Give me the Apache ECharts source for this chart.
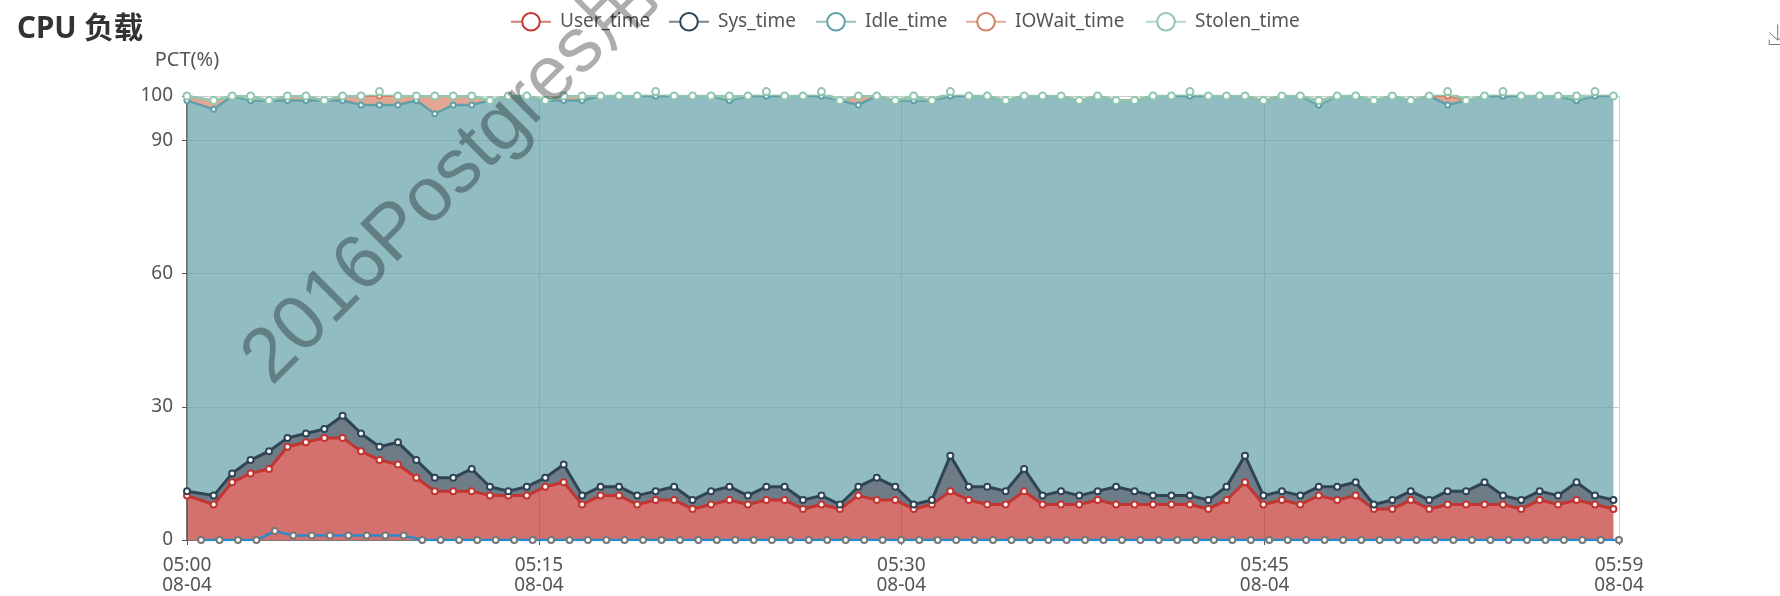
<!DOCTYPE html>
<html>
<head>
<meta charset="utf-8">
<style>
  html, body { margin: 0; padding: 0; background: #fff; }
  #chart { width: 1780px; height: 596px; }
</style>
<script src="https://cdn.jsdelivr.net/npm/echarts@6/dist/echarts.min.js"></script>
</head>
<body>
<div id="chart"></div>
<script>
// minutes after 05:00 as placed along the axis in the picture
const sampleMinutes = [0, 1.10, 1.86, 2.62, 3.38, 4.14, 4.90, 5.66, 6.41, 7.17, 7.93, 8.69, 9.45, 10.21, 10.97, 11.73, 12.48, 13.24, 14.00, 14.76, 15.52, 16.28, 17.04, 17.80, 18.55, 19.31, 20.07, 20.83, 21.59, 22.35, 23.11, 23.87, 24.62, 25.38, 26.14, 26.90, 27.66, 28.42, 29.18, 29.94, 30.69, 31.45, 32.21, 32.97, 33.73, 34.49, 35.25, 36.01, 36.76, 37.52, 38.28, 39.04, 39.80, 40.56, 41.32, 42.08, 42.83, 43.59, 44.35, 45.11, 45.87, 46.63, 47.39, 48.15, 48.90, 49.66, 50.42, 51.18, 51.94, 52.70, 53.46, 54.22, 54.97, 55.73, 56.49, 57.25, 58.01, 58.77];
const baselineMinutes = [0.58, 1.34, 2.10, 2.86, 3.62, 4.38, 5.14, 5.89, 6.65, 7.41, 8.17, 8.93, 9.69, 10.45, 11.21, 11.96, 12.72, 13.48, 14.24, 15.00, 15.76, 16.52, 17.28, 18.03, 18.79, 19.55, 20.31, 21.07, 21.83, 22.59, 23.35, 24.10, 24.86, 25.62, 26.38, 27.14, 27.90, 28.66, 29.42, 30.17, 30.93, 31.69, 32.45, 33.21, 33.97, 34.73, 35.49, 36.24, 37.00, 37.76, 38.52, 39.28, 40.04, 40.80, 41.56, 42.31, 43.07, 43.83, 44.59, 45.35, 46.11, 46.87, 47.63, 48.38, 49.14, 49.90, 50.66, 51.42, 52.18, 52.94, 53.70, 54.45, 55.21, 55.97, 56.73, 57.49, 58.25, 59.00];

const userTime = [10, 8, 13, 15, 16, 21, 22, 23, 23, 20, 18, 17, 14, 11, 11, 11, 10, 10, 10, 12, 13, 8, 10, 10, 8, 9, 9, 7, 8, 9, 8, 9, 9, 7, 8, 7, 10, 9, 9, 7, 8, 11, 9, 8, 8, 11, 8, 8, 8, 9, 8, 8, 8, 8, 8, 7, 9, 13, 8, 9, 8, 10, 9, 10, 7, 7, 9, 7, 8, 8, 8, 8, 7, 9, 8, 9, 8, 7];
const sysTime = [1, 2, 2, 3, 4, 2, 2, 2, 5, 4, 3, 5, 4, 3, 3, 5, 2, 1, 2, 2, 4, 2, 2, 2, 2, 2, 3, 2, 3, 3, 2, 3, 3, 2, 2, 1, 2, 5, 3, 1, 1, 8, 3, 4, 3, 5, 2, 3, 2, 2, 4, 3, 2, 2, 2, 2, 3, 6, 2, 2, 2, 2, 3, 3, 1, 2, 2, 2, 3, 3, 5, 2, 2, 2, 2, 4, 2, 2];
const idleTime = [88, 87, 85, 81, 79, 76, 75, 74, 71, 74, 77, 76, 81, 82, 84, 82, 87, 89, 88, 85, 82, 89, 88, 88, 90, 89, 88, 91, 89, 87, 90, 88, 88, 91, 90, 91, 86, 86, 87, 91, 90, 81, 88, 88, 88, 84, 90, 89, 89, 89, 87, 88, 90, 90, 90, 91, 88, 81, 89, 89, 90, 86, 88, 87, 91, 91, 88, 91, 87, 88, 87, 90, 91, 89, 90, 86, 90, 91];
const iowaitTime = [1, 2, 0, 0, 0, 1, 1, 0, 1, 2, 2, 2, 1, 4, 2, 2, 0, 0, 0, 0, 1, 1, 0, 0, 0, 0, 0, 0, 0, 0, 0, 0, 0, 0, 0, 0, 2, 0, 0, 0, 0, 0, 0, 0, 0, 0, 0, 0, 0, 0, 0, 0, 0, 0, 0, 0, 0, 0, 0, 0, 0, 0, 0, 0, 0, 0, 0, 0, 2, 0, 0, 0, 0, 0, 0, 0, 0, 0];
const stolenTime = [0, 0, 0, 1, 0, 0, 0, 0, 0, 0, 1, 0, 0, 0, 0, 0, 0, 0, 0, 0, 0, 0, 0, 0, 0, 1, 0, 0, 0, 1, 0, 1, 0, 0, 1, 0, 0, 0, 0, 1, 0, 1, 0, 0, 0, 0, 0, 0, 0, 0, 0, 0, 0, 0, 1, 0, 0, 0, 0, 0, 0, 1, 0, 0, 0, 0, 0, 0, 1, 0, 0, 1, 0, 0, 0, 1, 1, 0];
const otherTime = [0, 0, 0, 0, 2, 1, 1, 1, 1, 1, 1, 1, 0, 0, 0, 0, 0, 0, 0, 0, 0, 0, 0, 0, 0, 0, 0, 0, 0, 0, 0, 0, 0, 0, 0, 0, 0, 0, 0, 0, 0, 0, 0, 0, 0, 0, 0, 0, 0, 0, 0, 0, 0, 0, 0, 0, 0, 0, 0, 0, 0, 0, 0, 0, 0, 0, 0, 0, 0, 0, 0, 0, 0, 0, 0, 0, 0, 0];

// tick spacing in the picture is not quite even
const tickMinutes = [0, 14.5, 29.43, 44.4, 59];
const tickLabels = ['05:00\n08-04', '05:15\n08-04', '05:30\n08-04', '05:45\n08-04', '05:59\n08-04'];
const legendNames = ['User_time', 'Sys_time', 'Idle_time', 'IOWait_time', 'Stolen_time'];
const legendLefts = [505, 663, 810, 960, 1140];
const seriesColors = ['#c23531', '#2f4554', '#61a0a8', '#d48265', '#91c7ae'];
const seriesSizes = [6, 6, 5, 5, 7];
const seriesWidths = [3, 3, 2.5, 2, 2.5];
const seriesLayers = [2, 2, 2, 1, 3];

const FONT = '"Noto Sans", "Noto Sans CJK SC", sans-serif';

const chart = echarts.init(document.getElementById('chart'));

// value goes first so the stack runs on y and not on the numeric x
const stacked = [userTime, sysTime, idleTime, iowaitTime, stolenTime].map((values, i) => ({
  name: legendNames[i],
  type: 'line',
  stack: 'cpu',
  encode: { x: 1, y: 0 },
  z: seriesLayers[i],
  symbol: 'emptyCircle',
  symbolSize: seriesSizes[i],
  lineStyle: { color: seriesColors[i], width: seriesWidths[i] },
  itemStyle: { color: seriesColors[i], borderWidth: 2 },
  areaStyle: { color: seriesColors[i], opacity: 0.7 },
  data: values.map((v, k) => [v, sampleMinutes[k]])
}));

// the line is cut at 100 but the rings above it still show
const overshoot = [];
sampleMinutes.forEach((m, k) => {
  const total = userTime[k] + sysTime[k] + idleTime[k] + iowaitTime[k] + stolenTime[k];
  if (total > 100) overshoot.push([m, total]);
});

chart.setOption({
  animation: false,
  title: {
    text: 'CPU 负载',
    left: 12,
    top: 10,
    textStyle: { fontFamily: FONT, fontSize: 29.5, fontWeight: 'bold', color: '#333' }
  },
  legend: legendNames.map((name, i) => ({
    data: [name],
    left: legendLefts[i],
    top: 7,
    itemWidth: 40,
    itemHeight: 22,
    lineStyle: { width: 2, opacity: 0.65 },
    textStyle: { fontFamily: FONT, fontSize: 19, color: '#555', padding: [0, 0, 0, 4] }
  })),
  toolbox: {
    right: -24,
    top: 7,
    itemSize: 20,
    feature: { saveAsImage: { title: '' } },
    iconStyle: { borderColor: '#777' }
  },
  grid: { left: 187, right: 161, top: 96, bottom: 56 },
  xAxis: {
    type: 'value',
    min: 0,
    max: 59,
    axisLine: { lineStyle: { color: '#777' } },
    axisTick: { length: 5, lineStyle: { color: '#555' }, customValues: tickMinutes },
    axisLabel: {
      fontFamily: FONT,
      fontSize: 19,
      lineHeight: 20,
      color: '#555',
      margin: 16,
      customValues: tickMinutes,
      formatter: (v) => tickLabels[tickMinutes.indexOf(v)]
    },
    splitLine: { show: true, lineStyle: { color: '#ccc' } }
  },
  yAxis: {
    type: 'value',
    name: 'PCT(%)',
    nameGap: 26,
    nameTextStyle: { fontFamily: FONT, fontSize: 20, color: '#555', align: 'center' },
    min: 0,
    max: 100,
    interval: 30,
    axisLine: { show: true, lineStyle: { color: '#444', width: 1.5 } },
    axisTick: { show: true, length: 5, lineStyle: { color: '#555' } },
    axisLabel: { fontFamily: FONT, fontSize: 19, color: '#555', margin: 14 },
    splitLine: { show: true, lineStyle: { color: '#ccc' } }
  },
  graphic: [{
    type: 'text',
    x: 284,
    y: 399,
    rotation: Math.PI / 4,
    z: 100,
    silent: true,
    style: {
      text: '2016Postgres用户大会',
      fill: 'rgba(0,0,0,0.32)',
      font: '77px "Liberation Sans", "Noto Sans CJK SC", sans-serif',
      textAlign: 'left',
      textVerticalAlign: 'bottom'
    }
  }],
  series: stacked.concat([
    {
      name: 'Stolen_time',
      type: 'scatter',
      clip: false,
      symbol: 'emptyCircle',
      symbolSize: 7,
      itemStyle: { color: seriesColors[4], borderWidth: 2, opacity: 1 },
      data: overshoot,
      z: 3
    },
    {
      name: 'Other_time',
      type: 'line',
      symbol: 'emptyCircle',
      symbolSize: 6,
      lineStyle: { color: '#2a8ad0', width: 2.5 },
      itemStyle: { color: '#777', borderWidth: 2 },
      data: otherTime.map((v, k) => [baselineMinutes[k], v]),
      z: 4
    }
  ])
});
</script>
</body>
</html>
